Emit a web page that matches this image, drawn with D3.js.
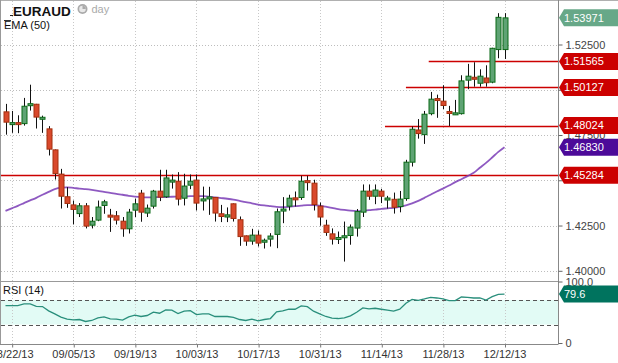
<!DOCTYPE html>
<html><head><meta charset="utf-8">
<script src="https://cdn.jsdelivr.net/npm/d3@7"></script>
<style>body{margin:0;background:#fff;overflow:hidden}svg{display:block;font-family:"Liberation Sans",Arial,sans-serif}</style>
</head><body><svg id="c" width="618" height="363"></svg>
<script>
// ---------- data ----------
const symbol = "EURAUD";
const tickLabels = ["08/22/13","09/05/13","09/19/13","10/03/13","10/17/13","10/31/13","11/14/13","11/28/13","12/12/13"];
const tickIndex = [1,11,21,31,41,51,61,71,81];
const open = [1.4878,1.4809,1.4815,1.4813,1.4915,1.4920,1.4840,1.4784,1.4668,1.4534,
1.4409,1.4364,1.4316,1.4359,1.4252,1.4280,1.4361,1.4305,1.4304,1.4274,
1.4232,1.4335,1.4429,1.4319,1.4357,1.4440,1.4409,1.4490,1.4495,1.4401,
1.4473,1.4501,1.4387,1.4400,1.4405,1.4315,1.4297,1.4370,1.4282,1.4193,
1.4164,1.4197,1.4161,1.4175,1.4201,1.4330,1.4357,1.4401,1.4405,1.4495,
1.4484,1.4357,1.4252,1.4204,1.4175,1.4184,1.4195,1.4236,1.4324,1.4440,
1.4412,1.4440,1.4392,1.4395,1.4355,1.4399,1.4600,1.4778,1.4752,1.4868,
1.4950,1.4937,1.4878,1.4863,1.4868,1.5053,1.5069,1.5036,1.5065,1.5042,
1.5222,1.5222];
const high = [1.4922,1.4883,1.4859,1.4955,1.5028,1.4922,1.4857,1.4799,1.4670,1.4563,
1.4462,1.4388,1.4374,1.4374,1.4297,1.4388,1.4392,1.4342,1.4330,1.4297,
1.4342,1.4399,1.4447,1.4366,1.4447,1.4558,1.4558,1.4532,1.4545,1.4536,
1.4532,1.4532,1.4465,1.4464,1.4407,1.4364,1.4350,1.4372,1.4300,1.4195,
1.4232,1.4223,1.4178,1.4208,1.4344,1.4407,1.4420,1.4438,1.4525,1.4525,
1.4503,1.4377,1.4282,1.4234,1.4217,1.4272,1.4256,1.4341,1.4477,1.4477,
1.4477,1.4453,1.4414,1.4432,1.4441,1.4613,1.4797,1.4838,1.4883,1.4988,
1.4973,1.5025,1.4911,1.4944,1.5080,1.5143,1.5152,1.5113,1.5135,1.5232,
1.5423,1.5423];
const low = [1.4752,1.4762,1.4760,1.4802,1.4885,1.4786,1.4762,1.4637,1.4504,1.4344,
1.4348,1.4256,1.4297,1.4234,1.4234,1.4274,1.4315,1.4215,1.4256,1.4188,
1.4206,1.4297,1.4271,1.4297,1.4344,1.4385,1.4403,1.4454,1.4361,1.4361,
1.4451,1.4333,1.4333,1.4309,1.4272,1.4269,1.4269,1.4272,1.4138,1.4138,
1.4144,1.4134,1.4123,1.4134,1.4125,1.4263,1.4333,1.4355,1.4392,1.4443,
1.4333,1.4249,1.4193,1.4145,1.4148,1.4051,1.4144,1.4189,1.4297,1.4392,
1.4368,1.4374,1.4344,1.4316,1.4323,1.4387,1.4576,1.4730,1.4701,1.4859,
1.4845,1.4893,1.4800,1.4861,1.4863,1.5003,1.5017,1.5017,1.5017,1.5036,
1.5174,1.5170];
const close = [1.4821,1.4817,1.4811,1.4909,1.4920,1.4849,1.4845,1.4672,1.4537,1.4412,
1.4372,1.4339,1.4359,1.4247,1.4274,1.4352,1.4381,1.4299,1.4280,1.4232,
1.4324,1.4370,1.4324,1.4346,1.4440,1.4407,1.4513,1.4501,1.4396,1.4468,
1.4495,1.4374,1.4396,1.4405,1.4319,1.4300,1.4309,1.4289,1.4189,1.4164,
1.4197,1.4153,1.4166,1.4192,1.4326,1.4341,1.4401,1.4394,1.4495,1.4490,
1.4366,1.4297,1.4212,1.4175,1.4182,1.4192,1.4241,1.4327,1.4440,1.4412,
1.4446,1.4412,1.4401,1.4351,1.4396,1.4600,1.4782,1.4758,1.4865,1.4948,
1.4942,1.4913,1.4871,1.4871,1.5049,1.5075,1.5058,1.5075,1.5039,1.5229,
1.5400,1.53971];
const ema50 = [1.4331,1.4345,1.4359,1.4374,1.4389,1.4403,1.4420,1.4436,1.4451,1.4459,
1.4461,1.4458,1.4454,1.4451,1.4447,1.4442,1.4436,1.4431,1.4425,1.4420,
1.4414,1.4410,1.4407,1.4406,1.4406,1.4407,1.4407,1.4409,1.4410,1.4411,
1.4412,1.4413,1.4412,1.4410,1.4406,1.4402,1.4398,1.4393,1.4386,1.4379,
1.4373,1.4366,1.4361,1.4357,1.4353,1.4352,1.4353,1.4357,1.4360,1.4363,
1.4363,1.4360,1.4354,1.4348,1.4341,1.4336,1.4332,1.4330,1.4331,1.4335,
1.4338,1.4342,1.4345,1.4348,1.4353,1.4361,1.4372,1.4386,1.4403,1.4420,
1.4438,1.4454,1.4471,1.4490,1.4506,1.4523,1.4541,1.4569,1.4596,1.4626,
1.4657,1.4683];
const rsi14 = [60.8,60.8,60.8,63.5,63.5,59.7,59.2,52.2,47.4,42.0,
38.8,37.7,38.2,35.0,36.6,40.9,42.5,39.3,38.8,37.2,
42.5,45.2,43.1,44.7,50.1,48.4,53.8,53.3,47.9,51.7,
52.7,46.3,47.4,47.4,43.1,43.1,43.1,41.5,38.2,36.6,
38.8,36.1,38.2,39.8,50.6,52.2,54.9,54.9,60.3,59.0,
51.7,47.4,43.1,40.4,39.8,40.9,44.1,50.1,57.0,55.4,
56.5,54.9,53.3,51.7,54.9,64.6,71.0,69.4,71.6,74.2,
73.2,71.6,68.9,68.9,74.8,74.2,73.2,73.2,69.9,75.3,
79.1,79.6];
const priceTicks = [1.400,1.425,1.450,1.475,1.500,1.525];
const priceLabelTicks = [1.400,1.425,1.475,1.525];
const levels = [1.51565,1.50127,1.48024,1.45284];
const levelStartIdx = [68.7,65,61.6,-1];
const rsiTicks = [0,100];
const rsiBands = [30,70];

// ---------- layout ----------
const W=618,H=363, plotR=558, mainBot=281.5, rsiBot=344.5;
const svg=d3.select("#c");
const x=d3.scaleLinear().domain([0,81]).range([5.5,504.5]);
const y=d3.scaleLinear().domain([1.40,1.525]).range([270.8,44.5]);
const yr=d3.scaleLinear().domain([0,100]).range([343,281.5]);
const n=close.length;
const idx=d3.range(n);

svg.append("rect").attr("width",W).attr("height",H).attr("fill","#fff");
svg.append("rect").attr("x",0).attr("width",plotR).attr("y",yr(rsiBands[1])).attr("height",yr(rsiBands[0])-yr(rsiBands[1])).attr("fill","#e2fbf5");

// grids
const g=svg.append("g").attr("stroke-dasharray","1,2").attr("stroke-width",1);
g.selectAll(".vg").data(tickIndex).join("line")
 .attr("x1",d=>Math.round(x(d))+0.5).attr("x2",d=>Math.round(x(d))+0.5)
 .attr("y1",1).attr("y2",rsiBot).attr("stroke","#c8c8c8");
g.selectAll(".hg").data(priceTicks).join("line")
 .attr("x1",1).attr("x2",plotR).attr("y1",d=>Math.round(y(d))+0.5).attr("y2",d=>Math.round(y(d))+0.5).attr("stroke","#bdbdbd");

svg.selectAll(".band").data(rsiBands).join("line")
 .attr("x1",1).attr("x2",plotR).attr("y1",d=>Math.round(yr(d))+0.5).attr("y2",d=>Math.round(yr(d))+0.5)
 .attr("stroke","#555").attr("stroke-dasharray","4,3");

svg.append("path").datum(idx).attr("fill","none").attr("stroke","#2a8f7c").attr("stroke-width",1.3)
 .attr("d",d3.line().x(i=>x(i)).y(i=>yr(rsi14[i])));

svg.selectAll(".lvl").data(levels).join("line")
 .attr("x1",(d,k)=>Math.max(0,x(levelStartIdx[k]))).attr("x2",plotR)
 .attr("y1",d=>Math.round(y(d))+0.5).attr("y2",d=>Math.round(y(d))+0.5)
 .attr("stroke","#cc0000").attr("stroke-width",1.4);

svg.append("path").datum(idx).attr("fill","none").attr("stroke","#7a3cb6").attr("stroke-width",1.8).attr("stroke-opacity",0.85)
 .attr("d",d3.line().curve(d3.curveMonotoneX).x(i=>x(i)).y(i=>y(ema50[i])));

// candles
const cg=svg.append("g");
const bw=5;
idx.forEach(i=>{
  const up=close[i]>=open[i];
  const cx=Math.round(x(i))+0.5;
  cg.append("line").attr("x1",cx).attr("x2",cx).attr("y1",y(high[i])).attr("y2",y(low[i])).attr("stroke","#111").attr("stroke-width",1);
  let top=y(Math.max(open[i],close[i])), bot=y(Math.min(open[i],close[i]));
  if(bot-top<2){const m=(top+bot)/2; top=m-1; bot=m+1;}
  cg.append("rect").attr("x",cx-bw/2).attr("width",bw).attr("y",top).attr("height",bot-top)
    .attr("fill",up?"#5fa374":"#d9492c").attr("stroke",up?"#0b6a16":"#a3300f").attr("stroke-width",1);
});

// borders
svg.append("line").attr("x1",0).attr("x2",W).attr("y1",0.5).attr("y2",0.5).attr("stroke","#b0b0b0");
svg.append("line").attr("x1",0.5).attr("x2",0.5).attr("y1",0).attr("y2",rsiBot).attr("stroke","#999");
svg.append("line").attr("x1",plotR+0.5).attr("x2",plotR+0.5).attr("y1",0).attr("y2",rsiBot).attr("stroke","#888");
svg.append("line").attr("x1",0).attr("x2",plotR).attr("y1",mainBot).attr("y2",mainBot).attr("stroke","#999");
svg.append("line").attr("x1",0).attr("x2",plotR).attr("y1",rsiBot).attr("y2",rsiBot).attr("stroke","#888");

// price axis (ticks for all, labels only where not covered by tags)
const ya=svg.append("g").attr("transform",`translate(${plotR+0.5},0)`)
 .call(d3.axisRight(y).tickValues(priceTicks).tickFormat(d=>priceLabelTicks.includes(d)?d3.format(".5f")(d):"").tickSize(4).tickPadding(3));
ya.select(".domain").remove();
ya.selectAll("text").attr("font-size",11).attr("fill","#444").attr("font-family","Liberation Sans,Arial,sans-serif");
ya.selectAll("line").attr("stroke","#666");

svg.append("clipPath").attr("id","rc").append("rect").attr("x",plotR).attr("y",278).attr("width",60).attr("height",80);
const ra=svg.append("g").attr("clip-path","url(#rc)").append("g").attr("transform",`translate(${plotR+0.5},0)`)
 .call(d3.axisRight(yr).tickValues(rsiTicks).tickFormat(d=>d===0?"0":d3.format(".1f")(d)).tickSize(4).tickPadding(3));
ra.select(".domain").remove();
ra.selectAll("text").attr("font-size",11).attr("fill","#444").attr("font-family","Liberation Sans,Arial,sans-serif");
ra.selectAll("line").attr("stroke","#666");

const xa=svg.append("g").attr("transform",`translate(0,${rsiBot})`)
 .call(d3.axisBottom(x).tickValues(tickIndex).tickFormat((d,k)=>tickLabels[k]).tickSize(3).tickPadding(3));
xa.select(".domain").remove();
xa.selectAll("line").attr("stroke","#777").attr("transform","translate(0.5,0)");
xa.selectAll("text").attr("font-size",11).attr("fill","#333").attr("font-family","Liberation Sans,Arial,sans-serif");

// tags
function tag(val,yy,color,label){
  const h=8.5, t=svg.append("g");
  t.append("path").attr("d",`M${plotR+1},${yy} L${plotR+6},${yy-h} L${W},${yy-h} L${W},${yy+h} L${plotR+6},${yy+h} Z`).attr("fill",color);
  t.append("text").attr("x",plotR+6).attr("y",yy).attr("dy","0.36em").attr("font-size",11).attr("fill","#fff").text(label);
}
levels.forEach(v=>tag(v,y(v),"#cc0000",d3.format(".5f")(v)));
tag(ema50[n-1],y(ema50[n-1]),"#4c0a99",d3.format(".5f")(ema50[n-1]));
tag(close[n-1],y(close[n-1]),"#67a888",d3.format(".5f")(close[n-1]));
tag(rsi14[n-1],yr(rsi14[n-1]),"#00735e",d3.format(".1f")(rsi14[n-1]));

// titles
svg.append("line").attr("x1",10).attr("x2",13).attr("y1",15.5).attr("y2",15.5).attr("stroke","#222");
svg.append("text").attr("x",13).attr("y",15.5).attr("font-size",13.5).attr("font-weight","bold").attr("fill","#111").text(symbol);
svg.append("circle").attr("cx",82.5).attr("cy",9).attr("r",5).attr("fill","#aaa");
svg.append("circle").attr("cx",82.5).attr("cy",9).attr("r",3.3).attr("fill","#e8e8e8");
svg.append("path").attr("d","M82.5,9 L82.5,5.7 A3.3,3.3 0 0 1 85.8,9 Z").attr("fill","#aaa");
svg.append("text").attr("x",91.5).attr("y",13).attr("font-size",11).attr("fill","#aaa").text("day");
svg.append("line").attr("x1",4).attr("x2",11).attr("y1",20.5).attr("y2",20.5).attr("stroke","#333");
svg.append("text").attr("x",4).attr("y",28.5).attr("font-size",11).attr("fill","#111").text("EMA (50)");
svg.append("text").attr("x",3).attr("y",293.5).attr("font-size",11).attr("fill","#111").text("RSI (14)");
</script></body></html>
